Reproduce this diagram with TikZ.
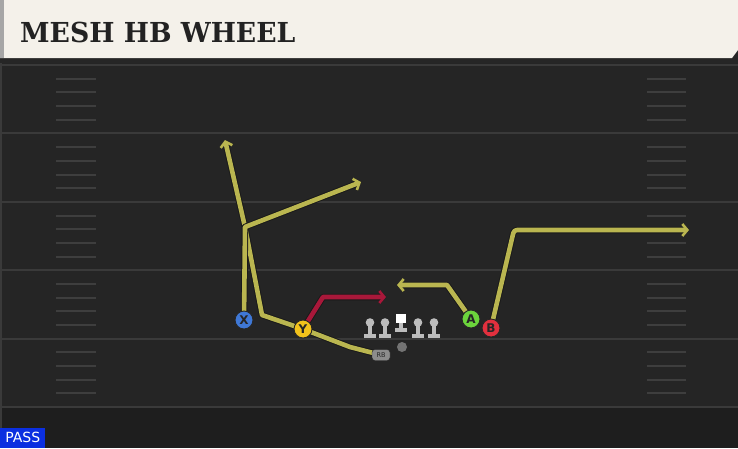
\documentclass[tikz,border=0pt]{standalone}
\usepackage{fontspec}
\setmainfont{DejaVu Serif}
\newfontfamily\titlefont{DejaVu Serif}
\newfontfamily\lblfont{DejaVu Sans}
\usetikzlibrary{arrows.meta}
\definecolor{fieldbg}{HTML}{252525}
\definecolor{fieldlow}{HTML}{1E1E1E}
\definecolor{yardln}{HTML}{3A3A3A}
\definecolor{hashln}{HTML}{3E3E3E}
\definecolor{titlebg}{HTML}{F4F1EA}
\definecolor{titletx}{HTML}{222222}
\definecolor{ylw}{HTML}{BAB650}
\definecolor{redrt}{HTML}{A8183A}
\definecolor{pblue}{HTML}{3F78D6}
\definecolor{pyel}{HTML}{F2C21C}
\definecolor{pgreen}{HTML}{6CD43C}
\definecolor{pred}{HTML}{E2303E}
\definecolor{linegray}{HTML}{BDBDBD}
\definecolor{passblue}{HTML}{0B2FE0}
\tikzset{
  tip/.style={-{Straight Barb[length=5pt,width=12pt,line width=2.6pt]}},
  yroute/.style={preaction={draw=black!90,line width=6.5pt,line join=round},draw=ylw,line width=4.6pt,line join=round},
  rroute/.style={preaction={draw=black!90,line width=6.5pt,line join=round},draw=redrt,line width=4.6pt,line join=round},
  player/.style={circle,draw=black!85,line width=0.9pt,minimum size=18pt,inner sep=0pt,font=\lblfont\bfseries\fontsize{12}{12}\selectfont,text=black!85},
  yard/.style={draw=yardln,line width=2pt},
  hash/.style={draw=hashln,line width=2pt},
  lineman/.style={fill=linegray},
}
\begin{document}
\begin{tikzpicture}[x=1pt,y=-1pt]
\useasboundingbox (0,0) rectangle (738,448);
% field
\fill[fieldbg] (0,0) rectangle (738,448);
\fill[fieldlow] (0,408) rectangle (738,448);
\fill[black!85] (0,56) rectangle (738,63);
\fill[yardln] (0,63) rectangle (2,448);
\foreach \y in {65,133.4,201.8,270.2,338.6,407} {\draw[yard] (0,\y) -- (738,\y);}
\foreach \b in {65,133.4,201.8,270.2,338.6} {
  \foreach \k in {1,2,3,4} {
    \draw[hash] (56,\b+13.7*\k) -- (96,\b+13.7*\k);
    \draw[hash] (647,\b+13.7*\k) -- (686,\b+13.7*\k);
  }
}
% title bar
\fill[titlebg] (0,0) -- (738,0) -- (738,50) -- (732,58) -- (0,58) -- cycle;
\fill[black!35] (0,0) rectangle (4,58);
\node[anchor=base west,inner sep=0pt,text=titletx,font=\titlefont\bfseries\fontsize{27.5}{27.5}\selectfont,xscale=0.97] (title) at (20,42) {MESH HB WHEEL};
% players positions
\coordinate (xp) at (244,320);
\coordinate (yp) at (303,329);
\coordinate (ap) at (471,319);
\coordinate (bp) at (491,328);
\coordinate (rbp) at (381,355);
% route points
\coordinate (jx) at (245,227);
\coordinate (xend) at (361,182);
\coordinate (rb1) at (350,347);
\coordinate (rb2) at (262,315);
\coordinate (rbend) at (225,140);
\coordinate (y1) at (323,297);
\coordinate (yend) at (386,297);
\coordinate (a1) at (447,285);
\coordinate (aend) at (397,285);
\coordinate (b1) at (514,230);
\coordinate (bend) at (689,230);
% routes
\draw[yroute,tip] (rbp) -- (rb1) -- (yp) -- (rb2) -- (jx) -- (rbend);
\draw[yroute,tip] (xp) -- (jx) -- (xend);
\draw[rroute,tip] (yp) -- (y1) -- (yend);
\draw[yroute,tip] (ap) -- (a1) -- (aend);
\draw[yroute,tip,rounded corners=3pt] (bp) -- (b1) -- (bend);
% line
\foreach \lx/\nm in {370/lt,385/lg,418/rg,434/rt} {
  \fill[lineman] (\lx-6,333.5) rectangle (\lx+6,338);
  \fill[lineman] (\lx-2,325) rectangle (\lx+2,335);
  \fill[lineman] (\lx,322.5) circle (4.3);
  \coordinate (\nm) at (\lx,330);
}
\fill[lineman] (401-6,327.5) rectangle (401+6,332);
\fill[lineman] (401-2,322) rectangle (401+2,329);
\node[fill=white,minimum size=9.5pt,inner sep=0pt] (ctr) at (401,318.5) {};
\node[circle,fill=black!55,minimum size=10pt,inner sep=0pt] (qb) at (402,347) {};
% players
\node[player,fill=pblue] (X) at (xp) {X};
\node[player,fill=pyel] (Y) at (yp) {Y};
\node[player,fill=pgreen] (A) at (ap) {A};
\node[player,fill=pred] (B) at (bp) {B};
\node[draw=black!85,fill=black!45,rounded corners=3pt,minimum width=18pt,minimum height=11pt,inner sep=0pt,font=\lblfont\fontsize{6.5}{6.5}\selectfont,text=black!85] (RB) at (rbp) {RB};
% pass badge
\node[fill=passblue,anchor=south west,minimum width=45pt,minimum height=20pt,inner sep=0pt,text=white,font=\lblfont\fontsize{14}{14}\selectfont] (pass) at (0,448) {PASS};
\end{tikzpicture}
\end{document}
